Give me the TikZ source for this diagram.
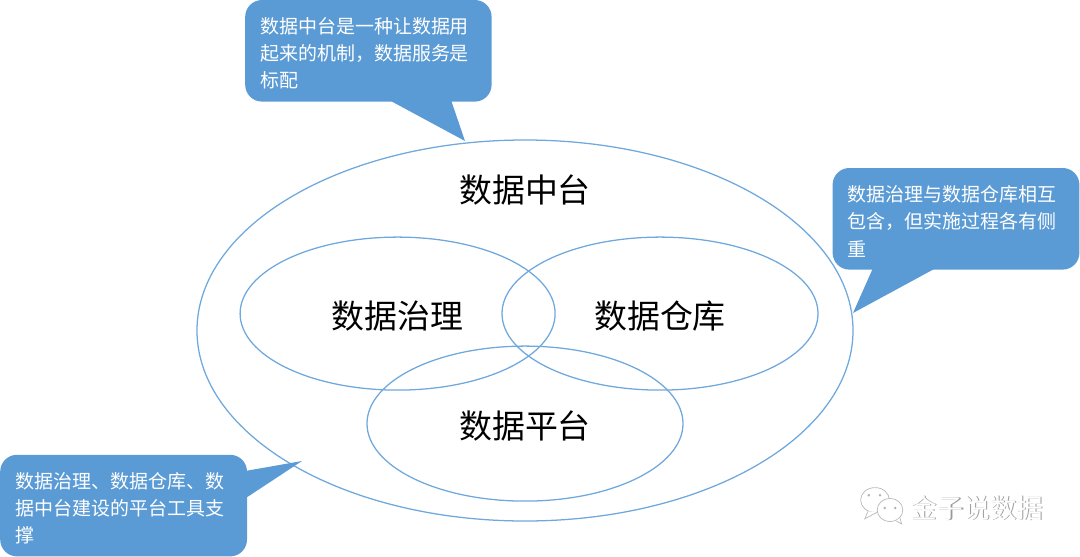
\documentclass[tikz,border=0pt]{standalone}
\usepackage{fontspec}
\setmainfont{Noto Sans CJK SC}
\usepackage{xcolor}
\usetikzlibrary{shapes.geometric,calc}
\definecolor{noteblue}{HTML}{5B9BD5}
\definecolor{ringblue}{HTML}{6FA8DC}

\begin{document}
\begin{tikzpicture}[x=1cm,y=1cm,
  ring/.style={draw=ringblue,line width=0.9pt,ellipse,inner sep=0pt,font=\fontsize{23.4}{28}\selectfont,execute at begin node={\rule{0pt}{23pt}}},
  note/.style={fill=noteblue,rounded corners=0.42cm,text=white,align=left,inner xsep=0.375cm,inner ysep=0pt,text width=5.41cm,minimum height=2.54cm,font=\fontsize{13.5}{19.4}\selectfont,execute at begin node={\rule{0pt}{15pt}}},
  wedge/.style={fill=noteblue},
  bubble/.style={draw=gray!55,fill=white,line width=0.5pt},
  eye/.style={fill=gray!60,circle,inner sep=0pt,minimum size=2pt}]
  \useasboundingbox (0,0) rectangle (27,13.9);
  % rings
  \node[ring,minimum width=16.4cm,minimum height=9.525cm] (platformring) at (13.125,5.6375) {};
  \node[font=\fontsize{23.4}{28}\selectfont] (midlabel) at (13.125,9.15) {数据中台};
  \node[ring,minimum width=7.875cm,minimum height=3.825cm] (govern) at (9.94,6.06) {数据治理};
  \node[ring,minimum width=7.9cm,minimum height=3.825cm] (warehouse) at (16.5,6.06) {数据仓库};
  \node[ring,minimum width=7.9cm,minimum height=3.875cm] (platform) at (13.125,3.31) {数据平台};
  % notes
  \node[note] (notetop) at (9.21,12.63) {数据中台是一种让数据用\\起来的机制，数据服务是\\标配};
  \node[note,minimum width=6.17cm] (noteright) at (23.9,8.43) {数据治理与数据仓库相互\\包含，但实施过程各有侧\\重};
  \node[note,minimum width=6.17cm] (noteleft) at (3.09,1.26) {数据治理、数据仓库、数\\据中台建设的平台工具支\\撑};
  \fill[wedge] (9.725,11.4) -- (11.625,10.375) -- (11.275,11.4) -- cycle;
  \fill[wedge] (21.825,7.2) -- (21.325,6.075) -- (23.4,7.2) -- cycle;
  \fill[wedge] (6.1,2.12) -- (7.55,2.375) -- (6.1,1.42) -- cycle;
  % watermark
  \draw[bubble] (21.875,1.4) ellipse (0.36 and 0.31);
  \draw[bubble] (21.7,1.12) -- (21.62,0.93) -- (21.92,1.09);
  \draw[bubble] (22.25,1.15) ellipse (0.32 and 0.29);
  \draw[bubble] (22.4,0.88) -- (22.54,0.8) -- (22.5,0.95);
  \node[eye] (eyea) at (21.72,1.52) {};
  \node[eye] (eyeb) at (22.0,1.52) {};
  \node[eye] (eyec) at (22.12,1.2) {};
  \node[eye] (eyed) at (22.38,1.2) {};
  \node[text=gray!80,font=\fontsize{18.9}{22}\selectfont] (markshade) at (24.45,1.18) {金子说数据};
  \node[text=white,font=\fontsize{18.9}{22}\selectfont] (mark) at (24.42,1.2) {金子说数据};
\end{tikzpicture}
\end{document}
